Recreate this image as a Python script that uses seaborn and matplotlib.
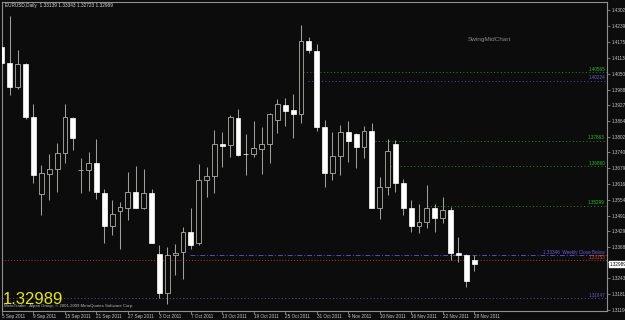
import matplotlib
matplotlib.use("Agg")
import matplotlib.pyplot as plt
import seaborn as sns
import pandas as pd

# ---- data (EURUSD daily, 5 Sep 2011 .. 28 Nov 2011) ----
opens = [1.41562, 1.40932, 1.39986, 1.40892, 1.38804, 1.35770, 1.36558, 1.36755, 1.37386, 1.38765,
         1.36712, 1.36716, 1.36992, 1.35810, 1.34510, 1.35100, 1.35218, 1.35849, 1.35218, 1.35810,
         1.33406, 1.31870, 1.33367, 1.33486, 1.34273, 1.33840, 1.36322, 1.36480, 1.37740, 1.37701,
         1.38765, 1.37350, 1.37346, 1.37543, 1.37740, 1.38686, 1.39277, 1.39080, 1.38922, 1.41799,
         1.41405, 1.38410, 1.36598, 1.37268, 1.38215, 1.38135, 1.37622, 1.38253, 1.35218, 1.36046,
         1.37740, 1.36204, 1.35218, 1.34510, 1.34667, 1.35218, 1.34825, 1.35140, 1.33446, 1.33367,
         1.33139]
highs = [1.41680, 1.42784, 1.41444, 1.40932, 1.39316, 1.36913, 1.37346, 1.37780, 1.39316, 1.38804,
         1.37189, 1.37425, 1.37938, 1.35967, 1.35534, 1.35455, 1.36638, 1.36874, 1.36755, 1.35967,
         1.33761, 1.33682, 1.33800, 1.34470, 1.35218, 1.36952, 1.36834, 1.38294, 1.38215, 1.38883,
         1.39120, 1.38135, 1.38647, 1.38410, 1.38962, 1.39513, 1.39553, 1.39710, 1.42429, 1.41956,
         1.41680, 1.38686, 1.38215, 1.38489, 1.38647, 1.38174, 1.38450, 1.38568, 1.36440, 1.37938,
         1.37898, 1.36362, 1.35534, 1.35376, 1.36125, 1.35376, 1.35652, 1.35258, 1.34076, 1.33406,
         1.33343]
lows = [1.40814, 1.39671, 1.39907, 1.38725, 1.36204, 1.34943, 1.35534, 1.35849, 1.36992, 1.37504,
        1.35810, 1.35889, 1.35573, 1.33840, 1.34155, 1.33603, 1.34746, 1.35200, 1.35179, 1.33820,
        1.31673, 1.31436, 1.32579, 1.32420, 1.33603, 1.33761, 1.35652, 1.35810, 1.36834, 1.37228,
        1.37268, 1.36519, 1.37228, 1.36558, 1.36992, 1.38174, 1.38450, 1.37977, 1.38568, 1.41326,
        1.38253, 1.36046, 1.36322, 1.36519, 1.37031, 1.36795, 1.37189, 1.35200, 1.34785, 1.35731,
        1.35849, 1.34943, 1.34273, 1.34234, 1.34431, 1.34273, 1.34628, 1.33170, 1.33091, 1.32106,
        1.32723]
closes = [1.40932, 1.39986, 1.40892, 1.38804, 1.36519, 1.36598, 1.36755, 1.37386, 1.38804, 1.37977,
          1.36720, 1.36992, 1.35849, 1.34510, 1.34982, 1.35258, 1.35849, 1.35218, 1.35810, 1.33840,
          1.31870, 1.33367, 1.33446, 1.34273, 1.33761, 1.36322, 1.36480, 1.37740, 1.37662, 1.38804,
          1.37307, 1.37342, 1.37583, 1.37740, 1.38922, 1.39316, 1.39041, 1.38922, 1.41799, 1.41444,
          1.38410, 1.36598, 1.37268, 1.38215, 1.37860, 1.37622, 1.38253, 1.35218, 1.36046, 1.37465,
          1.36204, 1.35218, 1.34510, 1.34667, 1.35218, 1.34825, 1.35140, 1.33446, 1.33367, 1.32343,
          1.32989]

date_labels = ["5 Sep 2011", "9 Sep 2011", "15 Sep 2011", "21 Sep 2011", "27 Sep 2011",
               "3 Oct 2011", "7 Oct 2011", "13 Oct 2011", "19 Oct 2011", "25 Oct 2011",
               "31 Oct 2011", "4 Nov 2011", "10 Nov 2011", "16 Nov 2011", "22 Nov 2011",
               "28 Nov 2011"]
price_ticks = [1.43020, 1.42390, 1.41750, 1.41130, 1.40500, 1.39880, 1.39270, 1.38640,
               1.38020, 1.37400, 1.36790, 1.36160, 1.35540, 1.34910, 1.34290, 1.33680,
               1.33060, 1.32430, 1.31810, 1.31190]
# the 1.33060 label sits under the current-price box on the scale
price_tick_labels = ["1.43020", "1.42390", "1.41750", "1.41130", "1.40500", "1.39880", "1.39270",
                     "1.38640", "1.38020", "1.37400", "1.36790", "1.36160", "1.35540", "1.34910",
                     "1.34290", "1.33680", "", "1.32430", "1.31810", "1.31190"]

level_values = [1.40565, 1.40224, 1.37863, 1.36860, 1.35299, 1.33346, 1.33153, 1.31647]
level_labels = ["1.40565", "1.40224", "1.37863", "1.36860", "1.35299",
                "1.33346  Weekly Close Below", "1.33153", "1.31647"]
level_start_bar = [38.3, 38.9, 47.4, 49.3, 54.0, 23.9, -1, -1]

title_text = "EURUSD,Daily  1.33139 1.33343 1.32723 1.32989"
last_price = "1.32989"

# ---- styles ----
BG = "#0b0c0b"
WICK = "#a0a098"
GREEN = "#1f8f1f"
GREEN_TXT = "#22c022"
PURPLE = "#5a4ab8"
PURPLE_TXT = "#6a5ad8"
RED = "#c03a10"
RED_TXT = "#e0501a"
level_line_colors = [GREEN, PURPLE, GREEN, GREEN, GREEN, PURPLE, RED, PURPLE]
level_text_colors = [GREEN_TXT, PURPLE_TXT, GREEN_TXT, GREEN_TXT, GREEN_TXT, PURPLE_TXT, RED_TXT, PURPLE_TXT]
level_styles = [(0, (1, 2.5))] * 5 + [(0, (5, 2, 1, 2)), (0, (1, 2)), (0, (1, 2.5))]

sns.set_theme(style="dark", rc={"axes.facecolor": BG, "figure.facecolor": BG,
                                "axes.edgecolor": "#909090"})
plt.rcParams["font.family"] = ["Liberation Sans", "DejaVu Sans"]

df = pd.DataFrame({"open": opens, "high": highs, "low": lows, "close": closes})
df["idx"] = range(len(df))
df["bull"] = df["close"] >= df["open"]
df["bottom"] = df[["open", "close"]].min(axis=1)
df["height"] = (df["close"] - df["open"]).abs().clip(lower=0.00002)

fig = plt.figure(figsize=(6.25, 3.2), dpi=100)
ax = fig.add_axes([2 / 625, 9 / 320, 605 / 625, 309 / 320])
ax.set_facecolor(BG)

# wicks
ax.vlines(df["idx"], df["low"], df["high"], color=WICK, lw=0.75, zorder=2)
# bodies
bw = 0.62
bull = df[df["bull"]]
bear = df[~df["bull"]]
ax.bar(bull["idx"], bull["height"], bottom=bull["bottom"], width=bw,
       facecolor=BG, edgecolor="#b0b0a8", lw=0.6, zorder=3)
ax.bar(bear["idx"], bear["height"], bottom=bear["bottom"], width=bw,
       facecolor="white", edgecolor="white", lw=0.5, zorder=3)

XMIN = 0.0635
XMAX = XMIN + 605 / 7.875
YMIN, YMAX = 1.31145, 1.43335
ax.set_xlim(XMIN, XMAX)
ax.set_ylim(YMIN, YMAX)

# level lines
for v, lab, st, lc, tc, ls in zip(level_values, level_labels, level_start_bar,
                                  level_line_colors, level_text_colors, level_styles):
    ax.hlines(v, st, XMAX, colors=lc, linestyles=[ls], lw=0.7, zorder=1)
    ax.text(XMAX - 0.25, v + 0.0002, lab, color=tc, fontsize=3.3, ha="right", va="bottom", zorder=4)

# axes ticks
ax.yaxis.tick_right()
ax.set_yticks(price_ticks)
ax.set_yticklabels(price_tick_labels)
ax.tick_params(axis="y", which="major", length=2.5, width=0.6, colors="#909090",
               labelcolor="#c8c8c8", labelsize=3.3, pad=1, right=True, left=False)
ax.set_xticks(range(0, len(df), 4))
ax.set_xticklabels(date_labels)
for lbl in ax.get_xticklabels():
    lbl.set_ha("left")
ax.tick_params(axis="x", which="major", length=2, width=0.6, colors="#909090",
               labelcolor="#c8c8c8", labelsize=3.3, pad=0.2, bottom=True)
for s in ax.spines.values():
    s.set_color("#909090")
    s.set_linewidth(0.8)
ax.grid(False)

# current price box on the price scale
ax.text(1.004, (float(last_price) - YMIN) / (YMAX - YMIN), last_price,
        transform=ax.transAxes, fontsize=3.3, color="black", ha="left", va="center",
        bbox=dict(boxstyle="square,pad=0.15", fc="white", ec="white"), clip_on=False)

# texts
fig.text(5 / 625, 1 - 6 / 320, title_text, fontsize=3.4, color="#d8d8d8", va="center", ha="left")
fig.text(468 / 625, 1 - 40 / 320, "SwingMidChart", fontsize=4.6, color="#8a8a8a", va="center", ha="left")
fig.text(3 / 625, 1 - 300 / 320, last_price, fontsize=12, color="#e8e800", va="center", ha="left")
fig.text(4 / 625, 1 - 306 / 320, "MetaTrader - Alpari Group, \u00a9 2001-2009 MetaQuotes Software Corp.",
         fontsize=3.1, color="#b8b8b8", va="center", ha="left")

fig.savefig("out.png", dpi=100, facecolor=BG)
